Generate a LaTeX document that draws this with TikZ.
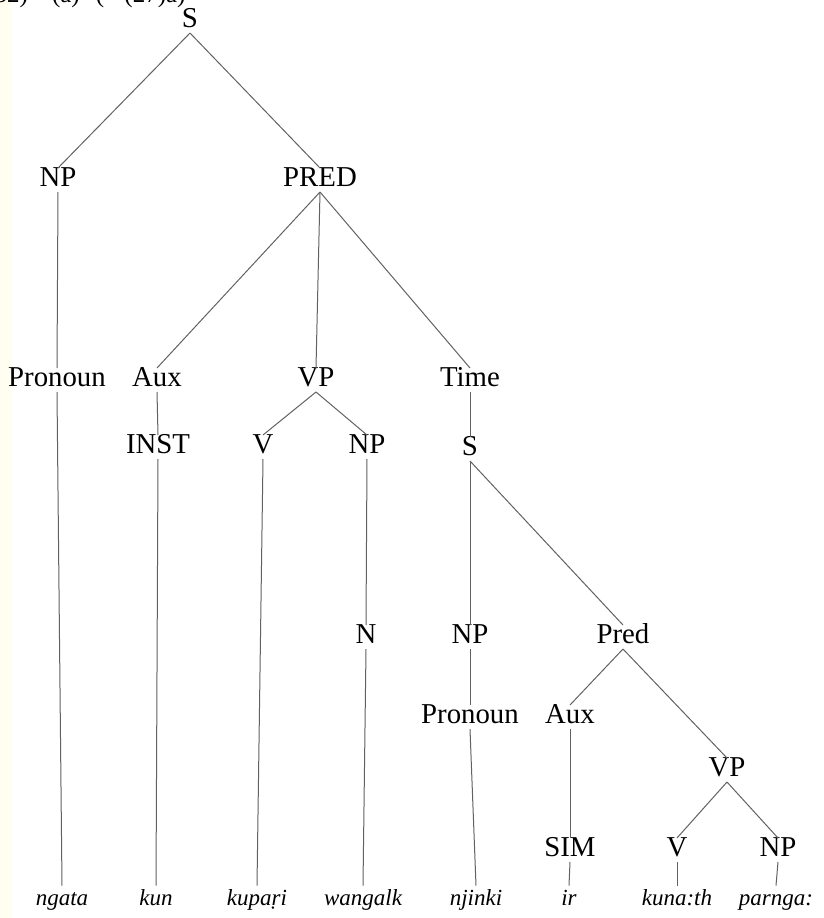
\documentclass[tikz,border=0pt]{standalone}
\usepackage{fontspec}
\setmainfont{Liberation Serif}
\usetikzlibrary{positioning}

\tikzset{
  cat/.style={inner sep=2.5pt, text height=0.66em, text depth=0pt},
  word/.style={inner sep=2.5pt, text height=0.7em, text depth=0.22em,
    font=\fontsize{11.5}{14}\selectfont\itshape},
  branch/.style={draw=black!62, line width=0.5pt}
}

\begin{document}
\begin{tikzpicture}[x=0.5pt,y=-0.5pt,font=\fontsize{14.4}{17}\selectfont]
  \useasboundingbox (0,0) rectangle (824,918);
  \fill[yellow!6] (0,0) rectangle (12,918);
  \node[anchor=base west, inner sep=0pt, font=\fontsize{12.5}{15}\selectfont]
    (caption) at (-14,2) {(32)\hspace{12pt}(a)\hspace{8pt}(= (27)a)};

  % categories
  \begin{scope}[every node/.style={cat}]
    \node (S)     at (190,21)  {S};
    \node (NPa)   at (58,180)  {NP};
    \node (PRED)  at (320,180) {PRED};
    \node (Pron)  at (57,380)  {Pronoun};
    \node (AuxA)  at (157,380) {Aux};
    \node (VPa)   at (316,380) {VP};
    \node (Time)  at (470,380) {Time};
    \node (INST)  at (158,447) {INST};
    \node (Va)    at (263,447) {V};
    \node (NPb)   at (367,447) {NP};
    \node (Sb)    at (470,449) {S};
    \node (N)     at (366,637) {N};
    \node (NPc)   at (470,637) {NP};
    \node (Predb) at (623,637) {Pred};
    \node (PronB) at (470,717) {Pronoun};
    \node (AuxB)  at (570,717) {Aux};
    \node (VPb)   at (727,770) {VP};
    \node (SIM)   at (570,850) {SIM};
    \node (Vb)    at (677,850) {V};
    \node (NPd)   at (778,850) {NP};
  \end{scope}

  % words
  \begin{scope}[every node/.style={word, anchor=base}]
    \node (ngata)   at (62,905)  {ngata};
    \node (kun)     at (156,905) {kun};
    \node (kupari)  at (257,905) {kupaṛi};
    \node (wangalk) at (363,905) {wangalk};
    \node (njinki)  at (476,905) {njinki};
    \node (ir)      at (569,905) {ir};
    \node (kunath)  at (677,905) {kuna:th};
    \node (parnga)  at (776,905) {parnga:};
  \end{scope}

  \begin{scope}[every edge/.style={branch}]
    \path (S.south) edge (NPa.north)
          (S.south) edge (PRED.north);
    \path (NPa.south) edge (Pron.north)
          (PRED.south) edge (AuxA.north)
          (PRED.south) edge (VPa.north)
          (PRED.south) edge (Time.north);
    \path (Pron.south) edge (ngata.north)
          (AuxA.south) edge (INST.north)
          (INST.south) edge (kun.north)
          (VPa.south) edge (Va.north)
          (VPa.south) edge (NPb.north)
          (Va.south) edge (kupari.north)
          (NPb.south) edge (N.north)
          (N.south) edge (wangalk.north);
    \path (Time.south) edge (Sb.north)
          (Sb.south) edge (NPc.north)
          (Sb.south) edge (Predb.north)
          (NPc.south) edge (PronB.north)
          (PronB.south) edge (njinki.north)
          (Predb.south) edge (AuxB.north)
          (Predb.south) edge (VPb.north)
          (AuxB.south) edge (SIM.north)
          (SIM.south) edge (ir.north)
          (VPb.south) edge (Vb.north)
          (VPb.south) edge (NPd.north)
          (Vb.south) edge (kunath.north)
          (NPd.south) edge (parnga.north);
  \end{scope}
\end{tikzpicture}
\end{document}
